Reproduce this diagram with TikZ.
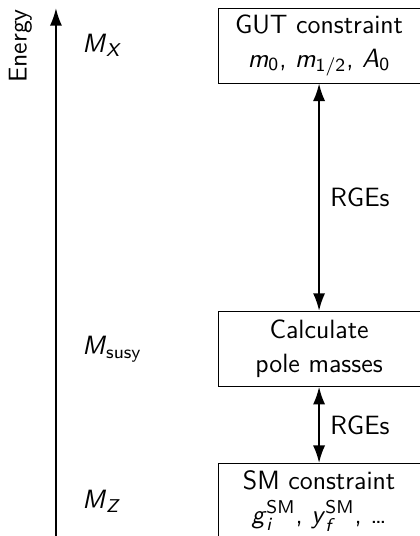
\documentclass[tikz,border=0pt]{standalone}
\usepackage{tikz}
\usetikzlibrary{arrows.meta, positioning}
\usepackage{amsmath}
\usepackage{xcolor}

% slanted sans letters for the symbols
\newcommand{\sv}[1]{\text{\textsl{#1}}}
\newcommand{\st}[1]{\text{#1}}

\begin{document}
\begin{tikzpicture}[
            font=\sffamily\fontsize{11.1pt}{14.3pt}\selectfont,
            node distance=9mm,
            box/.style={draw, align=center, minimum width=84.8pt, minimum height=31.5pt, inner sep=2pt},
            scalelabel/.style={anchor=west, inner sep=0pt},
            arrow/.style={-{Latex[length=2.6mm, width=1.8mm]}, thick},
            dblarrow/.style={{Latex[length=2.6mm, width=1.8mm]}-{Latex[length=2.6mm, width=1.8mm]}, thick}
        ]
            \useasboundingbox (0pt,0pt) rectangle (176pt,-225.1pt);
            % energy axis
            \coordinate (axisbot) at (23.5pt,-225.1pt);
            \coordinate (axistop) at (23.5pt,-3.4pt);
            \draw[arrow] (axisbot) -- (axistop);
            \node[rotate=90, inner sep=0pt, font=\sffamily\fontsize{10.8pt}{13pt}\selectfont] (energy) at (8.6pt,-19.3pt) {Energy};
            % steps of the calculation
            \node[box] (gut) at (134pt,-19.1pt) {GUT constraint\\$\sv{m}_{\st{0}}$, $\sv{m}_{\st{1/2}}$, $\sv{A}_{\st{0}}$};
            \node[box, below=95.5pt of gut] (pole) {Calculate\\pole masses};
            \node[box, below=32pt of pole] (sm) {SM constraint\\$\sv{g}_{\sv{i}}^{\st{SM}}$, $\sv{y}_{\sv{f}}^{\st{SM}}$, \dots};
            % scales
            \node[scalelabel] (mx) at (gut.center -| 34.4pt,0) {$\sv{M}_{\sv{X}}$};
            \node[scalelabel] (msusy) at (pole.center -| 34.4pt,0) {$\sv{M}_{\st{susy}}$};
            \node[scalelabel] (mz) at (sm.center -| 34.4pt,0) {$\sv{M}_{\sv{Z}}$};
            \draw[dblarrow] (gut) -- node[right=1pt] (rge1) {RGEs} (pole);
            \draw[dblarrow] (pole) -- node[right=1pt] (rge2) {RGEs} (sm);
        \end{tikzpicture}
\end{document}
